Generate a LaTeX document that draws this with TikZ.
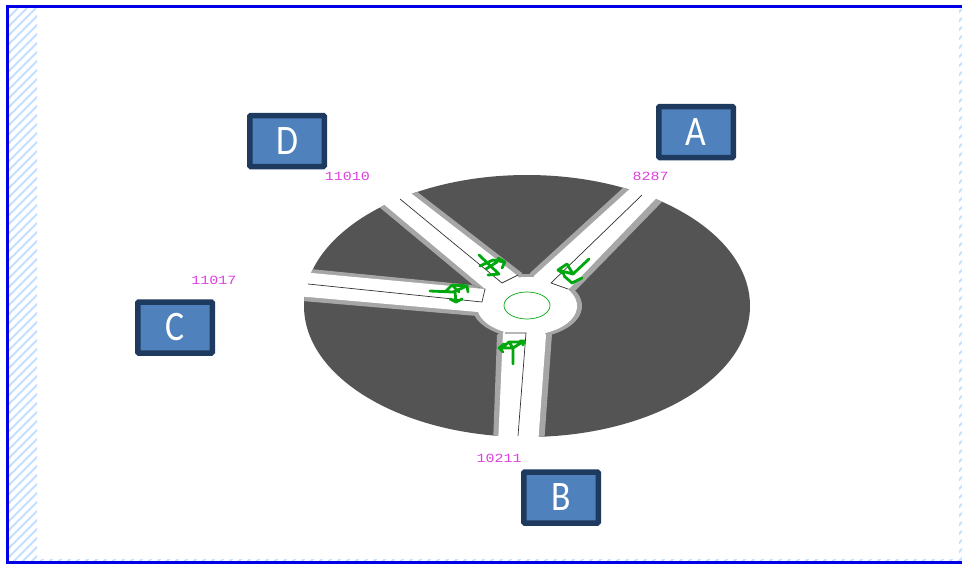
\documentclass[tikz,border=0pt]{standalone}
\usepackage{fontspec}
\setmainfont{Carlito}
\newfontfamily\lblfont{Liberation Mono}
\definecolor{framebl}{HTML}{0000E6}
\definecolor{hatchbl}{HTML}{C4E0FF}
\definecolor{darkfield}{HTML}{545454}
\definecolor{roadedge}{HTML}{A6A6A6}
\definecolor{boxfill}{HTML}{4F81BD}
\definecolor{boxline}{HTML}{1F3A5F}
\definecolor{arrowgr}{HTML}{00A80E}
\definecolor{lblmag}{HTML}{E040E0}
\tikzset{
  x=1pt,y=-1pt,
  approach/.style={draw=boxline,fill=boxfill,line width=5.5pt,rounded corners=1pt,minimum width=74.5pt,minimum height=51pt,inner sep=0pt,text=white,font=\fontsize{42}{42}\selectfont},
  countlbl/.style={text=lblmag,inner sep=0pt,font=\lblfont\fontsize{12.5}{12.5}\selectfont,xscale=1.2},
  median/.style={draw=black!80,line width=0.7pt},
  turn/.style={draw=arrowgr,line width=2.8pt,line cap=round,line join=round},
  hatchline/.style={draw=hatchbl,line width=2pt}
}
\begin{document}
\begin{tikzpicture}
\useasboundingbox (0,0) rectangle (962,573);
\fill[white] (0,0) rectangle (962,573);
% hatching of the margins
\begin{scope}
\clip (9,8) rectangle (37,561) (37,559) rectangle (959,561) (959,8) rectangle (962,561);
\foreach \k in {0,9,...,1540}{\draw[hatchline] (\k,8) -- ++(-600,600);}
\end{scope}
% frame
\draw[framebl,line width=3pt] (962,6.5) -- (7.5,6.5) -- (7.5,562.5) -- (962,562.5);
% field
\fill[darkfield] (527,306) ellipse[x radius=223,y radius=131];
% road edges, clipped by the field
\begin{scope}
\clip (527,306) ellipse[x radius=223,y radius=131];
\fill[roadedge] (527,306) ellipse[x radius=55,y radius=32];
\fill[roadedge] (527,306) -- (576,290) -- (698,165) -- (660,154) -- (530,273) -- cycle;
\fill[roadedge] (527,306) -- (522,273) -- (376,160) -- (343,177) -- (473,285) -- cycle;
\fill[roadedge] (527,306) -- (472,285) -- (290,267) -- (285,299.5) -- (477,316) -- cycle;
\fill[roadedge] (527,306) -- (497,335) -- (493,445) -- (544,445) -- (552,334) -- cycle;
\end{scope}
% carriageways
\fill[white] (527,306) ellipse[x radius=50,y radius=29];
\fill[white] (527,306) -- (570,288) -- (692,161) -- (666,156) -- (534,276) -- cycle;
\fill[white] (527,306) -- (518,276) -- (372,163) -- (344,171) -- (484,288) -- cycle;
\fill[white] (527,306) -- (484,289) -- (290,271) -- (285,295) -- (478,312) -- cycle;
\fill[white] (527,306) -- (503,333) -- (498,445) -- (538,445) -- (546,335) -- cycle;
% medians and stop lines
\draw[median] (642,195) -- (551,283) -- (568,289);
\draw[median] (400,199) -- (502,283) -- (518,275);
\draw[median] (308,284) -- (482,302) -- (485,289);
\draw[median] (518,436) -- (526,333) -- (505,333);
% central island
\draw[arrowgr,line width=0.7pt] (527,305.5) ellipse[x radius=23,y radius=13.5];
% turning movements
\draw[turn] (589,259) -- (573,274) -- (558,270) (567,264) -- (558,270) -- (564,274) (564,276) -- (572,283) -- (582,278) (567,264) -- (573,274);
\draw[turn] (479,255) -- (499,274) (499,274) -- (488,275) (480,266) -- (493,260) -- (505,262) (498,258) -- (505,262) -- (502,268) (486,269) -- (497,262);
\draw[turn] (430,291) -- (453,292) -- (467,286) (461,285) -- (467,286) -- (468,292) (445,292) -- (452,285) -- (459,292) (455,292) -- (456,302) (450,299) -- (456,302) -- (462,299) (452,285) -- (466,286);
\draw[turn] (513,364) -- (513,348) -- (499,348) (504,344) -- (499,348) -- (503,352) (503,347) -- (509,342) -- (513,348) -- (524,341) (520,341) -- (524,341) -- (523,345) (509,342) -- (523,342);
% count labels
\node[countlbl] (n1) at (650.5,176) {8287};
\node[countlbl] (n2) at (499,458) {10211};
\node[countlbl] (n3) at (214,280) {11017};
\node[countlbl] (n4) at (347.5,176) {11010};
% approach boxes
\node[approach] (A) at (696,132) {\scalebox{.85}[1]{A}};
\node[approach] (B) at (561,497.5) {\scalebox{.85}[1]{B}};
\node[approach] (C) at (175,327.5) {\scalebox{.85}[1]{C}};
\node[approach] (D) at (287,141) {\scalebox{.85}[1]{D}};
\end{tikzpicture}
\end{document}
